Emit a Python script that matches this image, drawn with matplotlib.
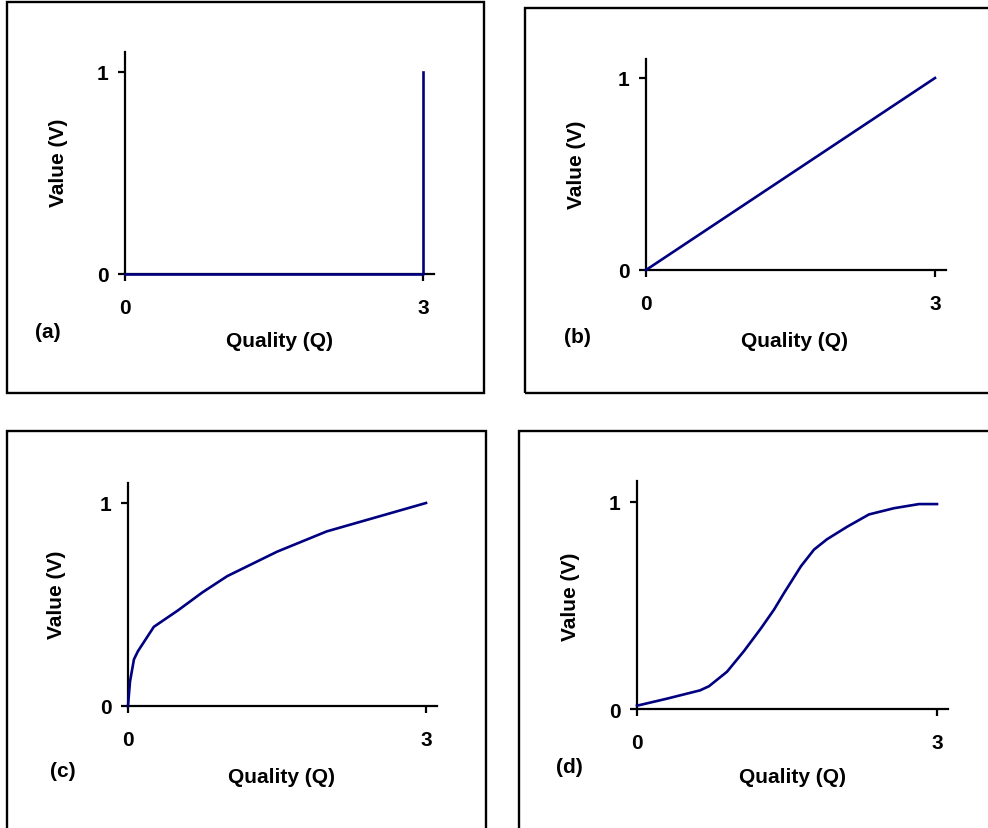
"""
four value functions: value (V) against quality (Q)
"""

import matplotlib
matplotlib.use("Agg")
import matplotlib.pyplot as plt
from matplotlib.patches import Rectangle

W, H = 988, 829

# data
a_q = [0, 3, 3]
a_v = [0, 0, 1]

b_q = [0, 3]
b_v = [0, 1]

c_q = [0, 0.02, 0.06, 0.1, 0.26, 0.5, 0.75, 1.0, 1.25, 1.5, 2.0, 2.5, 3.0]
c_v = [0, 0.12, 0.23, 0.27, 0.39, 0.47, 0.56, 0.64, 0.70, 0.76, 0.86, 0.93, 1.0]

d_q = [0, 0.30, 0.63, 0.72, 0.90, 1.07, 1.24, 1.37, 1.47, 1.64, 1.77, 1.90,
       2.10, 2.32, 2.57, 2.82, 3.0]
d_v = [0.016, 0.05, 0.09, 0.11, 0.18, 0.28, 0.39, 0.48, 0.56, 0.69, 0.77, 0.82,
       0.88, 0.94, 0.97, 0.99, 0.99]

x_ticks = [0, 3]
y_ticks = [0, 1]
tags = ["(a)", "(b)", "(c)", "(d)"]

LINE = "#000080"
FS = 15

plt.rcParams["font.family"] = ["Liberation Sans", "DejaVu Sans"]
plt.rcParams["font.weight"] = "bold"

fig = plt.figure(figsize=(W / 100, H / 100), dpi=100)


def px_axes(x0, x3, y0, y1):
    # x0/x3: pixel x of Q=0 and Q=3, y0/y1: pixel y (from top) of V=0 and V=1
    sx = (x3 - x0) / 3.0
    sy = (y0 - y1)
    right = x0 + 3.11 * sx
    top = y0 - 1.1 * sy
    return fig.add_axes([x0 / W, 1 - y0 / H, (right - x0) / W, (y0 - top) / H])


def style(ax):
    ax.set_xlim(0, 3.11)
    ax.set_ylim(0, 1.1)
    ax.spines["top"].set_visible(False)
    ax.spines["right"].set_visible(False)
    for s in ("left", "bottom"):
        ax.spines[s].set_linewidth(1.6)
    ax.set_xticks(x_ticks)
    ax.set_yticks(y_ticks)
    ax.tick_params(direction="out", length=5, width=1.6, labelsize=FS)
    ax.tick_params(axis="x", pad=12)
    ax.tick_params(axis="y", pad=7)
    for lab in ax.get_xticklabels() + ax.get_yticklabels():
        lab.set_fontweight("bold")


def ftext(x, y, s, **kw):
    fig.text(x / W, 1 - y / H, s, fontsize=FS, fontweight="bold",
             ha="center", va="center", **kw)


def box(x0, y0, x1, y1):
    fig.patches.append(Rectangle((x0 / W, 1 - y1 / H), (x1 - x0) / W, (y1 - y0) / H,
                                 transform=fig.transFigure, fill=False,
                                 edgecolor="black", linewidth=1.7))


# panel frames
box(7, 3, 484, 394)
box(525, 9, 995, 394)
box(7, 432, 486, 840)
box(519, 432, 995, 840)

panels = [
    (a_q, a_v, (125, 423, 275, 73)),
    (b_q, b_v, (646, 935, 271, 79)),
    (c_q, c_v, (128, 426, 707, 504)),
    (d_q, d_v, (637, 937, 710, 503)),
]
for q, v, geo in panels:
    ax = px_axes(*geo)
    style(ax)
    ax.plot(q, v, color=LINE, linewidth=1.9, clip_on=False, zorder=3)

# labels
ftext(59, 163, "Value (V)", rotation=90)
ftext(279, 342, "Quality (Q)")
ftext(48, 333, tags[0])

ftext(576, 165, "Value (V)", rotation=90)
ftext(794, 342, "Quality (Q)")
ftext(577, 338, tags[1])

ftext(57, 595, "Value (V)", rotation=90)
ftext(282, 778, "Quality (Q)")
ftext(63, 772, tags[2])

ftext(571, 597, "Value (V)", rotation=90)
ftext(792, 778, "Quality (Q)")
ftext(569, 768, tags[3])

fig.savefig("out.png", dpi=100)
